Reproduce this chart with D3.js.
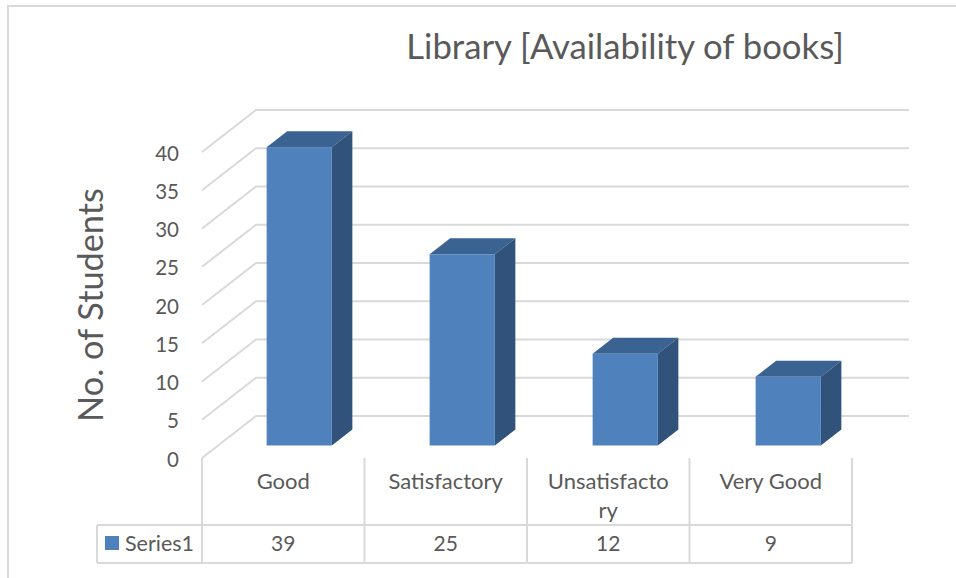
<!DOCTYPE html>
<html>
<head>
<meta charset="utf-8">
<script src="https://cdn.jsdelivr.net/npm/d3@7"></script>
<style>
  html, body { margin: 0; padding: 0; background: #fff; }
  svg { display: block; }
  text { font-family: Lato, sans-serif; fill: #595959; }
  .grid { stroke: #d9d9d9; stroke-width: 2; fill: none; }
  .tbl { stroke: #d9d9d9; stroke-width: 2; fill: none; }
</style>
</head>
<body>
<svg width="956" height="578"></svg>
<script>
var categories = ["Good", "Satisfactory", "Unsatisfactory", "Very Good"];
var values = [39, 25, 12, 9];
var yTicks = [0, 5, 10, 15, 20, 25, 30, 35, 40];
var seriesName = "Series1";
var titleText = "Library [Availability of books]";
var yLabel = "No. of Students";

var svg = d3.select("svg"),
    width = +svg.attr("width"),
    height = +svg.attr("height");

var front = {left: 202, right: 852, bottom: 458, top: 152},
    wall = {dx: 54, dy: -42},
    barNear = 0.31, barFar = 0.69,
    tableTop = 525, tableBottom = 563, tableLeft = 97;

var y = d3.scaleLinear().domain([0, 40]).range([front.bottom, front.top]);
var x = d3.scaleBand().domain(categories).range([front.left, front.right + 2])
    .paddingInner(0.6).paddingOuter(0.3);
var cols = d3.scaleBand().domain(categories).range([front.left, front.right]);

// outer frame, only top and left show
svg.append("path").attr("d", "M8,578V6H956").attr("fill", "none")
    .attr("stroke", "#d9d9d9").attr("stroke-width", 2);

svg.append("text")
    .attr("x", 625).attr("y", 59)
    .attr("text-anchor", "middle")
    .style("font-size", "34.7px")
    .text(titleText);

svg.append("text")
    .attr("transform", "translate(103,305) rotate(-90)")
    .attr("text-anchor", "middle")
    .style("font-size", "34.3px")
    .text(yLabel);

// back wall and side wall
var grid = svg.append("g");
grid.selectAll("path").data(yTicks).enter().append("path")
    .attr("class", "grid")
    .attr("d", function(d) {
      var y0 = y(d);
      return "M" + front.left + "," + y0 +
        "L" + (front.left + wall.dx) + "," + (y0 + wall.dy) +
        "H" + (front.right + wall.dx + 3);
    });

// y tick labels
svg.append("g").selectAll("text").data(yTicks).enter().append("text")
    .attr("x", 179)
    .attr("y", function(d) { return y(d); })
    .attr("dy", "0.42em")
    .attr("text-anchor", "end")
    .style("font-size", "20.5px")
    .text(function(d) { return d; });

// 3d bars
var barW = x.bandwidth();
var depthX = wall.dx * (barFar - barNear),
    depthY = wall.dy * (barFar - barNear);

var bars = svg.append("g").selectAll("g")
    .data(categories.map(function(c, i) { return {name: c, value: values[i]}; }))
    .enter().append("g")
    .attr("transform", function(d) {
      return "translate(" + (x(d.name) + wall.dx * barNear - 1) + "," + (wall.dy * barNear + 0.5) + ")";
    });

bars.append("path") // top face
    .attr("fill", "#3a6391")
    .attr("d", function(d) {
      var t = y(d.value);
      return "M0," + t + "l" + depthX + "," + depthY + "h" + barW + "l" + (-depthX) + "," + (-depthY) + "Z";
    });
bars.append("path") // side face
    .attr("fill", "#31527a")
    .attr("d", function(d) {
      var t = y(d.value), b = y(0);
      return "M" + barW + "," + t + "l" + depthX + "," + depthY + "V" + (b + depthY) + "L" + barW + "," + b + "Z";
    });
bars.append("rect") // front face
    .attr("fill", "#4f81bd")
    .attr("x", 0)
    .attr("y", function(d) { return y(d.value); })
    .attr("width", barW)
    .attr("height", function(d) { return y(0) - y(d.value); });

// data table lines
var table = svg.append("g");
table.append("path").attr("class", "tbl")
    .attr("d", "M" + tableLeft + "," + tableTop + "H" + front.right +
      "M" + tableLeft + "," + tableBottom + "H" + front.right +
      "M" + tableLeft + "," + tableTop + "V" + tableBottom);
table.selectAll(".col").data(categories).enter().append("line")
    .attr("class", "tbl col")
    .attr("x1", function(d) { return cols(d); })
    .attr("x2", function(d) { return cols(d); })
    .attr("y1", front.bottom).attr("y2", tableBottom);
table.append("line").attr("class", "tbl")
    .attr("x1", front.right).attr("x2", front.right)
    .attr("y1", front.bottom).attr("y2", tableBottom);

// category labels, long ones break mid word like the original
var maxLabel = cols.bandwidth() - 36;
svg.append("g").selectAll("text").data(categories).enter().append("text")
    .attr("text-anchor", "middle")
    .attr("y", 489)
    .style("font-size", "22px")
    .each(function(d) {
      var el = d3.select(this), cx = cols(d) + cols.bandwidth() / 2;
      el.attr("x", cx).text(d);
      if (this.getComputedTextLength() <= maxLabel) return;
      var n = d.length;
      while (n > 1) {
        el.text(d.slice(0, n));
        if (this.getComputedTextLength() <= maxLabel) break;
        n--;
      }
      el.text(null);
      el.append("tspan").attr("x", cx).text(d.slice(0, n));
      el.append("tspan").attr("x", cx).attr("dy", 29).text(d.slice(n));
    });

// value row
svg.append("g").selectAll("text").data(values).enter().append("text")
    .attr("x", function(d, i) { return cols(categories[i]) + cols.bandwidth() / 2; })
    .attr("y", 551)
    .attr("text-anchor", "middle")
    .style("font-size", "21px")
    .text(function(d) { return d; });

// legend key
svg.append("rect").attr("x", 105).attr("y", 536).attr("width", 14).attr("height", 14).attr("fill", "#4f81bd");
svg.append("text").attr("x", 125).attr("y", 551).style("font-size", "21.5px").text(seriesName);
</script>
</body>
</html>
